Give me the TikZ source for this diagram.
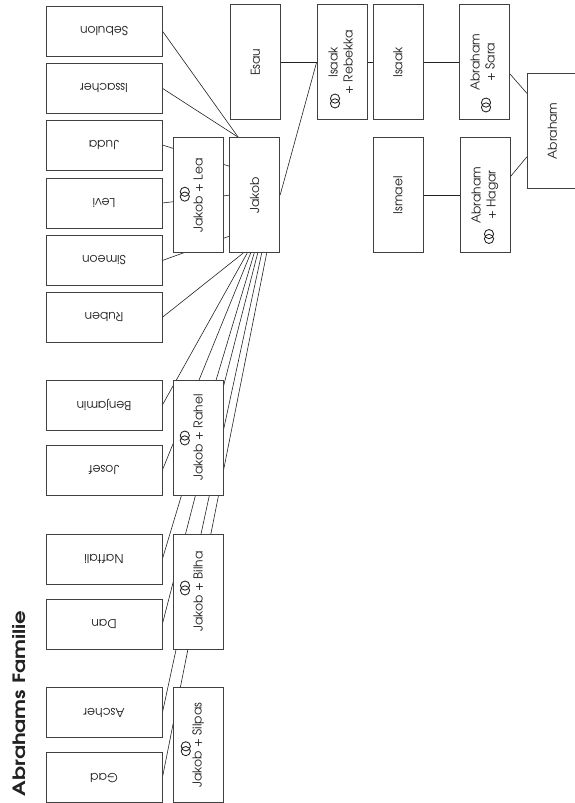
\documentclass[tikz,border=0pt]{standalone}
\usepackage{fontspec}
\setmainfont{TeX Gyre Adventor}
\usepackage{graphicx}
\usetikzlibrary{calc}
\pgfdeclarelayer{bg}
\pgfsetlayers{bg,main}
\definecolor{boxgray}{HTML}{404040}
\definecolor{linkgray}{HTML}{222222}
\begin{document}
\begin{tikzpicture}[x=1pt,y=-1pt,
  box/.style={draw=boxgray, line width=0.8pt, fill=white, inner sep=0pt, text=linkgray,
    font=\fontsize{12.3}{15}\selectfont},
  kid/.style={box, minimum width=116pt, minimum height=50pt},
  par/.style={box, minimum width=50pt, minimum height=115pt},
  link/.style={draw=linkgray, line width=0.6pt},
  wedrings/.pic={\draw[linkgray, line width=0.85pt] (0,-2.4) circle[radius=4.6];
                 \draw[linkgray, line width=0.85pt] (0,2.4) circle[radius=4.6];}]
\useasboundingbox (0,0) rectangle (574,803);

% children (Jakob's sons)
\node[kid] (sebulon)  at (104,31)    {\rotatebox{180}{Sebulon}};
\node[kid] (issacher) at (104,88.3)  {\rotatebox{180}{Issacher}};
\node[kid] (juda)     at (104,145)   {\rotatebox{180}{Juda}};
\node[kid] (levi)     at (104,203)   {\rotatebox{180}{Levi}};
\node[kid] (simeon)   at (104,260.5) {\rotatebox{180}{Simeon}};
\node[kid] (ruben)    at (104,317.3) {\rotatebox{180}{Ruben}};
\node[kid] (benjamin) at (104,405)   {\rotatebox{180}{Benjamin}};
\node[kid] (josef)    at (104,470)   {\rotatebox{180}{Josef}};
\node[kid] (naftali)  at (104,559)   {\rotatebox{180}{Naftali}};
\node[kid] (dan)      at (104,624)   {\rotatebox{180}{Dan}};
\node[kid] (ascher)   at (104,712.7) {\rotatebox{180}{Ascher}};
\node[kid] (gad)      at (104,777.7) {\rotatebox{180}{Gad}};

% Jakob's marriages
\node[par] (lea)    at (198.3,195.2) {\rotatebox{90}{Jakob + Lea}};
\node[par] (rahel)  at (198.3,437.5) {\rotatebox{90}{Jakob + Rahel}};
\node[par] (bilha)  at (198.3,591.5) {\rotatebox{90}{Jakob + Bilha}};
\node[par] (silpas) at (198.3,745.2) {\rotatebox{90}{Jakob + Silpas}};

% older generations
\node[par] (esau)    at (255.3,62.3)  {\rotatebox{90}{Esau}};
\node[par] (jakob)   at (254.7,195.2) {\rotatebox{90}{Jakob}};
\node[par] (rebekka) at (342,62.3)    {\rotatebox{90}{\begin{tabular}{@{}c@{}}Isaak\\+ Rebekka\end{tabular}}};
\node[par] (isaak)   at (398,62.3)    {\rotatebox{90}{Isaak}};
\node[par] (ismael)  at (398,195.2)   {\rotatebox{90}{Ismael}};
\node[par] (sara)    at (484,62.3)    {\rotatebox{90}{\begin{tabular}{@{}c@{}}Abraham\\+ Sara\end{tabular}}};
\node[par] (hagar)   at (485,195.2)   {\rotatebox{90}{\begin{tabular}{@{}c@{}}Abraham\\+ Hagar\end{tabular}}};
\node[par] (abraham) at (552.3,130.8) {\rotatebox{90}{Abraham}};

% marriage rings
\pic at ($(lea.center)+(-13.5,-1)$) {wedrings};
\pic at ($(rahel.center)+(-13.5,0.5)$) {wedrings};
\pic at ($(bilha.center)+(-13.3,-3.5)$) {wedrings};
\pic at ($(silpas.center)+(-12.5,3.5)$) {wedrings};
\pic at ($(rebekka.center)+(-7,38.7)$) {wedrings};
\pic at ($(sara.center)+(2,42.7)$) {wedrings};
\pic at ($(hagar.center)+(4,41.3)$) {wedrings};

% title
\node[rotate=90, inner sep=0pt, text=linkgray, font=\bfseries\fontsize{17}{17}\selectfont] (title) at (19.2,703.5) {\scalebox{1.25}[1]{Abrahams Familie}};

\begin{pgfonlayer}{bg}
\draw[link] (sebulon.east)  -- ($(jakob.north west)+(9,0)$);
\draw[link] (issacher.east) -- ($(jakob.north west)+(9,0)$);
\draw[link] (juda.east)     -- ($(jakob.west)+(0,-29)$);
\draw[link] (levi.east)     -- (jakob.west);
\draw[link] (simeon.east)   -- ($(jakob.west)+(0,41)$);
\draw[link] (ruben.east)    -- ($(jakob.south)+(-11.5,0)$);
\draw[link] (benjamin.east) -- ($(jakob.south)+(-7.5,0)$);
\draw[link] (josef.east)    -- ($(jakob.south)+(-4,0)$);
\draw[link] (naftali.east)  -- ($(jakob.south)+(-0.5,0)$);
\draw[link] (dan.east)      -- ($(jakob.south)+(3,0)$);
\draw[link] (ascher.east)   -- ($(jakob.south)+(7,0)$);
\draw[link] (gad.east)      -- ($(jakob.south)+(12,0)$);
\draw[link] (esau.east)     -- (rebekka.west);
\draw[link] (jakob.east)    -- (rebekka.west);
\draw[link] (rebekka.east)  -- (isaak.west);
\draw[link] (isaak.east)    -- (sara.west);
\draw[link] (ismael.east)   -- (hagar.west);
\draw[link] ($(sara.east)+(0,11)$)     -- ($(abraham.west)+(0,-37.5)$);
\draw[link] ($(hagar.east)+(0,-18.5)$) -- ($(abraham.west)+(0,26)$);
\end{pgfonlayer}
\end{tikzpicture}
\end{document}
